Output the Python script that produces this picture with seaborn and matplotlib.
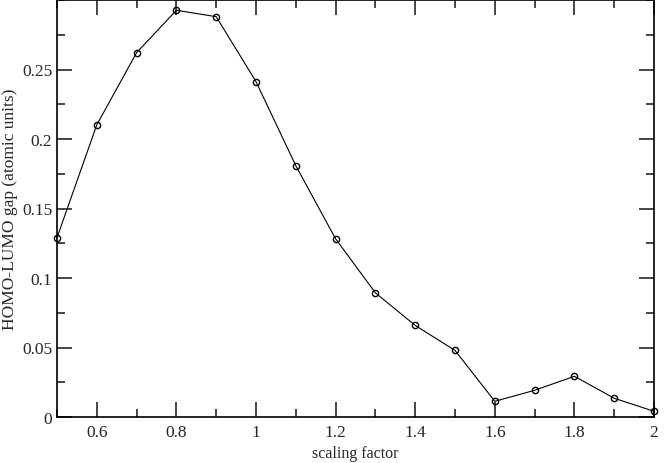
import matplotlib
matplotlib.use("Agg")
import matplotlib.pyplot as plt
import seaborn as sns
import pandas as pd
from matplotlib.ticker import MultipleLocator

scaling = [0.5, 0.6, 0.7, 0.8, 0.9, 1.0, 1.1, 1.2, 1.3, 1.4, 1.5, 1.6, 1.7, 1.8, 1.9, 2.0]
gap = [0.129, 0.2102, 0.2621, 0.2926, 0.2880, 0.2413, 0.1808, 0.1282, 0.0893, 0.0659,
       0.0479, 0.0113, 0.0192, 0.0293, 0.0135, 0.0041]
xticks = [0.6, 0.8, 1.0, 1.2, 1.4, 1.6, 1.8, 2.0]
xticklabels = ["0.6", "0.8", "1", "1.2", "1.4", "1.6", "1.8", "2"]
yticks = [0, 0.05, 0.1, 0.15, 0.2, 0.25]
yticklabels = ["0", "0.05", "0.1", "0.15", "0.2", "0.25"]

sns.set_style("ticks")
plt.rcParams["font.family"] = ["Liberation Serif", "DejaVu Serif"]

df = pd.DataFrame({"scaling": scaling, "gap": gap})

fig = plt.figure(figsize=(6.64, 4.64), dpi=100)
ax = fig.add_axes([57/664, 46/464, 597/664, 417/464])
sns.lineplot(data=df, x="scaling", y="gap", ax=ax, color="black", linewidth=0.8,
             marker="o", markersize=4.5, markerfacecolor="none",
             markeredgecolor="black", markeredgewidth=1.0, clip_on=False)

ax.set_xlim(0.5, 2.0)
ax.set_ylim(0, 0.3)
ax.set_xticks(xticks)
ax.set_xticklabels(xticklabels)
ax.set_yticks(yticks)
ax.set_yticklabels(yticklabels)
ax.xaxis.set_minor_locator(MultipleLocator(0.1))
ax.yaxis.set_minor_locator(MultipleLocator(0.025))
ax.tick_params(which="both", direction="in", top=True, right=True, labelsize=12.5, width=1.2)
ax.tick_params(axis="x", which="both", pad=5)
ax.tick_params(which="major", length=11)
ax.tick_params(which="minor", length=6)
ax.set_xlabel("scaling factor", fontsize=11.5, labelpad=4)
ax.set_ylabel("HOMO-LUMO gap (atomic units)", fontsize=12.5, labelpad=3)
for s in ax.spines.values():
    s.set_linewidth(1.2)
    s.set_color("black")

fig.savefig("out.png", dpi=100)
